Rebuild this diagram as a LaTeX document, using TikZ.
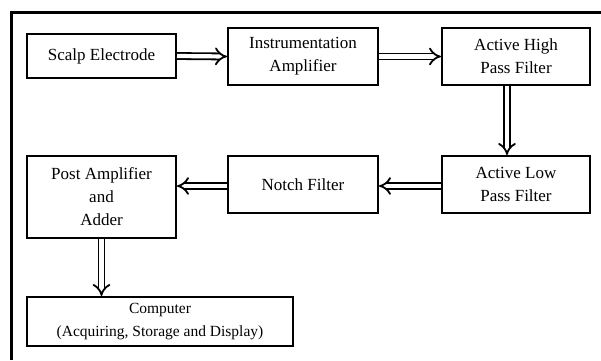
\documentclass[tikz,border=0pt]{standalone}
\usepackage{fontspec}
\setmainfont{Liberation Serif}
\usetikzlibrary{arrows.meta}
\begin{document}
\begin{tikzpicture}[x=1pt,y=-1pt,
  blk/.style={draw, line width=2pt, inner sep=0pt, align=center,
    font=\fontsize{17}{23}\selectfont},
  flow/.style={double, double distance=4.2pt, line width=1.8pt, -{Implies[scale=1.6]}}]
\useasboundingbox (0,0) rectangle (601,360);
\draw[line width=3pt] (11,360) -- (11,12) -- (601,12);
\node[blk, minimum width=149pt, minimum height=44pt] (se) at (101.5,56) {Scalp Electrode};
\node[blk, minimum width=150pt, minimum height=57pt] (ia) at (303,56.5) {Instrumentation\\Amplifier};
\node[blk, minimum width=148pt, minimum height=57pt] (hp) at (516,56.5) {Active High\\Pass Filter};
\node[blk, minimum width=148pt, minimum height=57pt] (lp) at (516,184.5) {Active Low\\Pass Filter};
\node[blk, minimum width=150pt, minimum height=57pt] (nf) at (303,184.5) {Notch Filter};
\node[blk, minimum width=149pt, minimum height=82pt] (pa) at (101.5,197) {Post Amplifier\\and\\Adder};
\node[blk, minimum width=266pt, minimum height=49pt, font=\fontsize{15.5}{23}\selectfont] (cp) at (160,321.5) {Computer\\(Acquiring, Storage and Display)};
\draw[flow] (se.east) -- (ia.west);
\draw[flow] (ia.east) -- (hp.west);
\draw[flow] ([xshift=-9pt]hp.south) -- ([xshift=-9pt]lp.north);
\draw[flow] ([yshift=-1.5pt]lp.west) -- ([yshift=-1.5pt]nf.east);
\draw[flow] ([yshift=-1.5pt]nf.west) -- ([yshift=-1.5pt]nf.west -| pa.east);
\draw[flow] (pa.south) -- (pa.south |- cp.north);
\end{tikzpicture}
\end{document}
